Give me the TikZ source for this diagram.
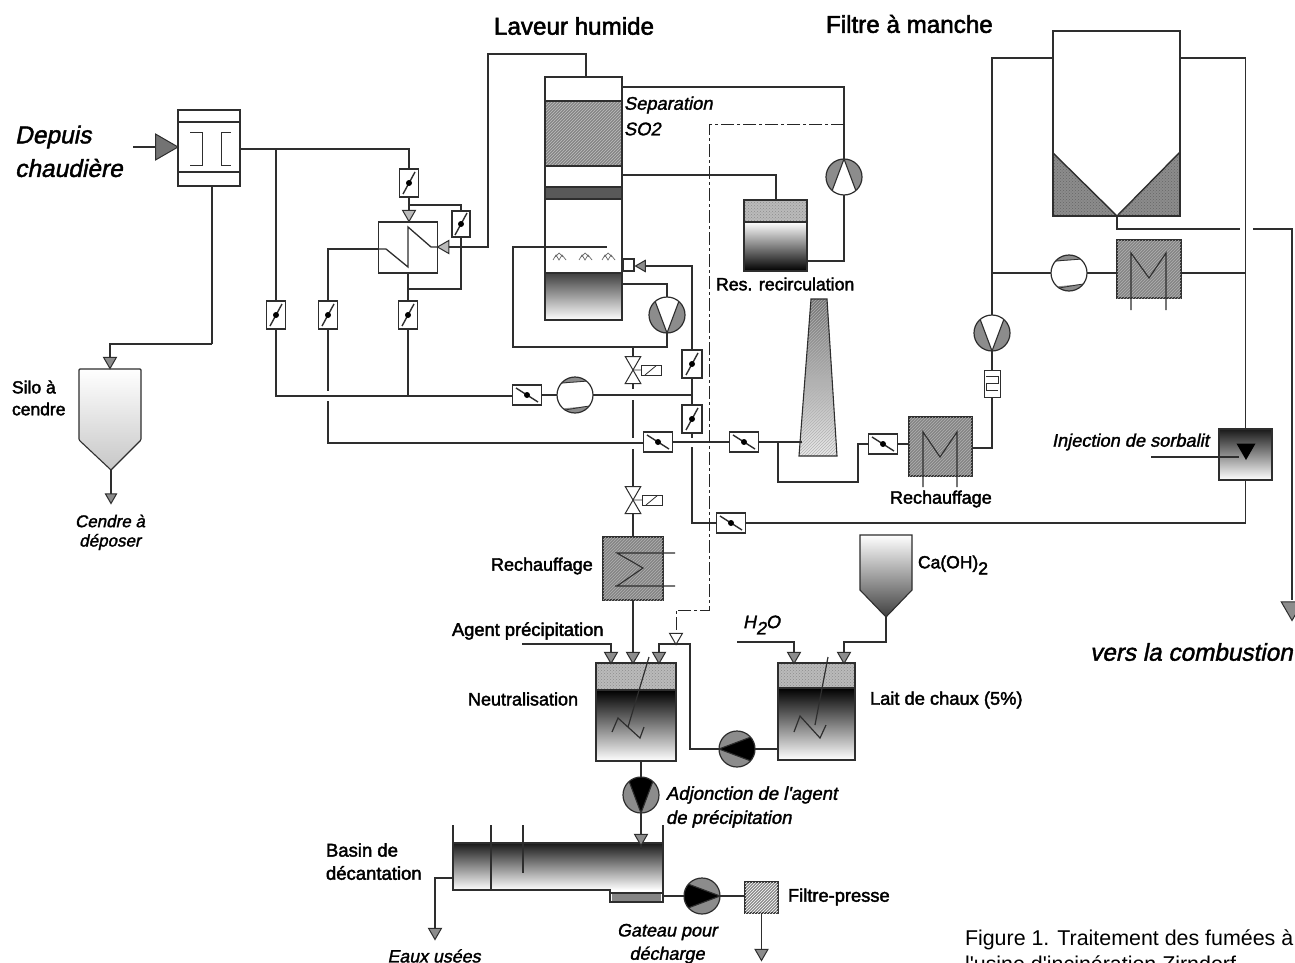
\documentclass[tikz,border=0pt]{standalone}
\usepackage{fontspec}
\setmainfont{Liberation Sans}
\newfontfamily\fb[FakeBold=2.2]{Liberation Sans}
\newfontfamily\fbi[FakeBold=1.6,FakeSlant=0.2]{Liberation Sans}
\newfontfamily\fr{Liberation Sans}
\newcommand{\fsz}[1]{\fontsize{#1}{#1}\selectfont}
\usetikzlibrary{shapes.geometric,patterns}
\colorlet{lc}{black!82}
\colorlet{hatchg}{black!48}
\colorlet{dotg}{black!45}
\tikzset{
  ln/.style={draw=lc,line width=1.1pt},
  thin ln/.style={draw=lc,line width=.7pt},
  dashln/.style={draw=black!85,line width=1pt,dash pattern=on 13pt off 3pt on 3pt off 3pt},
  box/.style={draw=lc,line width=1.2pt,rectangle,inner sep=0pt,outer sep=0pt},
  hatchbox/.style={box,fill=hatchg,postaction={pattern=north east lines,pattern color=white!70!black}},
  wbox/.style={box,fill=white},
  vdamp/.style={wbox,minimum width=19pt,minimum height=28pt,path picture={
     \begin{scope}[shift={(path picture bounding box.center)}]
     \draw[lc,line width=1.4pt] (-6,11)--(6,-11);
     \fill[black] (0,0) circle (3);\end{scope}}},
  hdamp/.style={wbox,minimum width=29pt,minimum height=20pt,path picture={
     \begin{scope}[shift={(path picture bounding box.center)}]
     \draw[lc,line width=1.4pt] (-11,-7)--(11,7);
     \fill[black] (0,0) circle (3);\end{scope}}},
  pumpbase/.style={draw=lc,line width=1.2pt,circle,inner sep=0pt,outer sep=0pt,minimum size=36pt,fill=dotg},
  pumpD/.style={pumpbase,path picture={
     \begin{scope}[shift={(path picture bounding box.center)}]
     \fill[#1] (0,18)--(-12,-14)--(-12,-30)--(12,-30)--(12,-14)--cycle;
     \draw[lc,line width=1.1pt] (-12,-14)--(0,18)--(12,-14);\end{scope}}},
  pumpU/.style={pumpbase,path picture={
     \begin{scope}[shift={(path picture bounding box.center)}]
     \fill[#1] (0,-18)--(-12,14)--(-12,30)--(12,30)--(12,14)--cycle;
     \draw[lc,line width=1.1pt] (-12,14)--(0,-18)--(12,14);\end{scope}}},
  pumpL/.style={pumpbase,path picture={
     \begin{scope}[shift={(path picture bounding box.center)}]
     \fill[#1] (-18,0)--(14,-12)--(30,-12)--(30,12)--(14,12)--cycle;
     \draw[lc,line width=1.1pt] (14,-12)--(-18,0)--(14,12);\end{scope}}},
  pumpR/.style={pumpbase,path picture={
     \begin{scope}[shift={(path picture bounding box.center)}]
     \fill[#1] (18,0)--(-14,-12)--(-30,-12)--(-30,12)--(-14,12)--cycle;
     \draw[lc,line width=1.1pt] (-14,-12)--(18,0)--(-14,12);\end{scope}}},
  fan/.style={draw=lc,line width=1.2pt,circle,inner sep=0pt,outer sep=0pt,minimum size=36pt,fill=white,path picture={
     \begin{scope}[shift={(path picture bounding box.center)}]
     \fill[dotg] (-18,-11)--(14,-14)--(14,-22)--(-18,-22)--cycle;
     \fill[dotg] (-18,14)--(14,11)--(14,22)--(-18,22)--cycle;
     \draw[lc,line width=.8pt] (-14,-12)--(14,-14) (-10,15)--(14,11);\end{scope}}},
  tri/.style={regular polygon,regular polygon sides=3,draw=lc,line width=1pt,inner sep=0pt,outer sep=0pt,minimum size=15pt,fill=dotg},
  tridown/.style={tri,shape border rotate=180},
  trileft/.style={tri,shape border rotate=90},
  valvebody/.style={regular polygon,regular polygon sides=3,draw=lc,line width=1pt,inner sep=0pt,outer sep=0pt,minimum size=18pt,fill=white},
  actu/.style={wbox,minimum width=20pt,minimum height=10pt,line width=.9pt,path picture={
     \begin{scope}[shift={(path picture bounding box.center)}]
     \draw[lc,line width=.8pt] (-6,5)--(6,-5);\end{scope}}},
  lbl/.style={inner sep=0pt,outer sep=0pt,anchor=west,align=left},
  lab/.style={lbl,font=\fb\fsz{#1}},
  labi/.style={lbl,font=\fbi\fsz{#1}},
}
\begin{document}
\begin{tikzpicture}[x=1pt,y=-1pt]
\useasboundingbox (0,0) rectangle (1295,963);
\fill[white] (0,0) rectangle (1295,963);

% ---------- titles and labels
\node[lab=24.2] (tLaveur) at (494,26) {Laveur humide};
\node[lab=24.2] (tFiltre) at (826,24) {Filtre à manche};
\node[labi=24.5] (tDep1) at (15,137) {Depuis};
\node[labi=24.5] (tDep2) at (15,168) {chaudière};
\node[lab=17.5] (tSilo1) at (12,387) {Silo à};
\node[lab=17.5] (tSilo2) at (12,409) {cendre};
\node[labi=17,anchor=center] (tCen1) at (110,521) {Cendre à};
\node[labi=17,anchor=center] (tCen2) at (110,542) {déposer};
\node[labi=18.3] (tSep) at (624,105) {Separation};
\node[labi=18.3] (tSO) at (624,129) {SO2};
\node[lab=17.7] (tRes) at (716,284) {Res. recirculation};
\node[labi=18.2] (tInj) at (1052,442) {Injection de sorbalit};
\node[lab=18] (tRe1) at (890,499) {Rechauffage};
\node[lab=18] (tRe2) at (491,566) {Rechauffage};
\node[lab=18.3] (tAg) at (452,631) {Agent précipitation};
\node[labi=18] (tH) at (743,625) {H\raisebox{-.35em}{2}O};
\node[lab=17.5] (tCa) at (918,565) {Ca(OH)\raisebox{-.35em}{2}};
\node[labi=24.3] (tVers) at (1090,652) {vers la combustion};
\node[lab=18] (tNeu) at (468,699) {Neutralisation};
\node[lab=18.3] (tLait) at (870,700) {Lait de chaux (5\%)};
\node[labi=18.5] (tAd1) at (666,795) {Adjonction de l'agent};
\node[labi=18.5] (tAd2) at (666,819) {de précipitation};
\node[lab=18.5] (tBa1) at (326,850) {Basin de};
\node[lab=18.5] (tBa2) at (326,873) {décantation};
\node[lab=18.3] (tPr) at (788,897) {Filtre-presse};
\node[labi=17.8,anchor=center] (tEa) at (434,956) {Eaux usées};
\node[labi=18,anchor=center] (tGa1) at (667,932) {Gateau pour};
\node[labi=18,anchor=center] (tGa2) at (667,955) {décharge};
\node[lbl,font=\fr\fsz{21.4}] (tFig1) at (965,940) {Figure 1. Traitement des fumées à};
\node[lbl,font=\fr\fsz{21.4}] (tFig2) at (965,964) {l'usine d'incinération Zirndorf};

% ---------- entry filter
\node[wbox,minimum width=62pt,minimum height=76pt] (entry) at (209,148) {};
\draw[box] (178,122)--(240,122) (178,172)--(240,172);
\draw[thin ln,line width=.9pt] (190,132)--(202,132)--(202,165)--(190,165) (231,132)--(221,132)--(221,165)--(231,165);
\node[tri,shape border rotate=-90,minimum size=30pt,fill=black!55] (intri) at (163,147) {};
\coordinate (instart) at (133,147);

% ---------- silo
\coordinate (silotop) at (110,369);
\coordinate (silotip) at (111,470);
\path[top color=white,bottom color=black!22] (79,369)--(141,369)--(141,440)--(111,470)--(79,440)--cycle;
\draw[ln,line width=1.1pt,rounded corners=1pt] (79,369)--(141,369)--(141,440)--(111,470)--(79,440)--cycle;
\node[tridown] (tsilo) at (110,361) {};
\node[tridown,minimum size=13pt] (tsiloout) at (111,497) {};
\coordinate (silobend) at (212,344);

% ---------- dampers
\node[vdamp] (d1) at (409,183) {};
\node[vdamp,minimum height=26pt,minimum width=18pt] (d2) at (461,224) {};
\node[vdamp] (d3) at (408,315) {};
\node[vdamp] (d4) at (276,315) {};
\node[vdamp] (d5) at (328,315) {};
\node[hdamp] (h1) at (527,395) {};
\node[hdamp] (h2) at (658,442) {};
\node[hdamp] (h3) at (744,442) {};
\node[hdamp] (h4) at (883,444) {};
\node[hdamp] (h5) at (731,523) {};
\node[vdamp,minimum width=20pt] (d6) at (692,364) {};
\node[vdamp,minimum width=20pt] (d7) at (692,419) {};

% ---------- gas heat exchanger
\node[wbox,minimum width=59pt,minimum height=51pt] (hx) at (408,247.5) {};
\draw[ln,line width=1.3pt] (379,249)--(386,249)--(408,267)--(408,227)--(431,247)--(438,247);
\node[tridown,fill=dotg!60] (thx1) at (409,214) {};
\node[trileft,fill=dotg!60] (thx2) at (445,247) {};

% ---------- scrubber column
\path[fill=white] (545,77) rectangle (622,320);
\path[fill=hatchg,postaction={pattern=north east lines,pattern color=black!25}] (545,101) rectangle (622,166);
\path[fill=black!65] (545,187) rectangle (622,199);
\path[top color=black!75,bottom color=white] (545,273) rectangle (622,320);
\node[box,minimum width=77pt,minimum height=243pt] (col) at (583.5,198.5) {};
\draw[ln] (545,101)--(622,101) (545,166)--(622,166) (545,187)--(622,187) (545,199)--(622,199) (545,273)--(622,273);
\foreach \dx in {560,586,609}{
  \draw[black!60,line width=.7pt] (\dx-7,260)--(\dx-4,255)--(\dx-1,260)--(\dx+2,255)--(\dx+6,260) (\dx-5,257)--(\dx-1,253)--(\dx+3,257);
}
\node[wbox,minimum width=11pt,minimum height=12pt] (noz) at (628.5,265) {};
\node[trileft,minimum size=13pt] (tnoz) at (642,266) {};
\node[pumpD=white] (p1) at (667,315) {};
\node[valvebody,shape border rotate=180] (v1a) at (633,361) {};
\node[valvebody] (v1b) at (633,379) {};
\node[actu] (a1) at (651,370) {};
\coordinate (col out1) at (622,87);
\coordinate (col out2) at (622,175);
\coordinate (col out3) at (622,284);
\coordinate (col in) at (586,77);
\coordinate (spray) at (607,247);

% ---------- reservoir
\path[fill=dotg!60,postaction={pattern=crosshatch dots,pattern color=black!45}] (744,200) rectangle (807,222);
\path[top color=white,bottom color=black] (744,222) rectangle (807,271);
\node[box,minimum width=63pt,minimum height=71pt] (res) at (775.5,235.5) {};
\draw[ln] (744,222)--(807,222);
\node[pumpU=white] (p2) at (844,177) {};

% ---------- fan and chimney
\node[fan] (f1) at (575,395) {};
\coordinate (chimtop) at (819,299);
\path[top color=black!55,bottom color=black!8,postaction={pattern=north east lines,pattern color=black!30}] (811,299)--(827,299)--(837,456)--(799,456)--cycle;
\draw[ln,line width=1.1pt] (811,299)--(827,299)--(837,456)--(799,456)--cycle;
\coordinate (chimin) at (802,442);

% ---------- reheater 1
\node[hatchbox,minimum width=63pt,minimum height=59pt] (hr1) at (940.5,446.5) {};
\draw[ln] (923,487)--(923,432)--(940,457)--(957,432)--(957,487);

% ---------- bag filter
\path[fill=white] (1053,31) rectangle (1180,216);
\path[fill=dotg,postaction={pattern=crosshatch dots,pattern color=black!60}] (1053,153)--(1117,216)--(1053,216)--cycle;
\path[fill=dotg,postaction={pattern=crosshatch dots,pattern color=black!60}] (1180,152)--(1117,216)--(1180,216)--cycle;
\node[box,minimum width=127pt,minimum height=185pt] (bag) at (1116.5,123.5) {};
\draw[ln,line width=1.4pt] (1053,153)--(1117,216)--(1180,152);
\coordinate (bagleft) at (1053,58);
\coordinate (bagright) at (1180,58);
\coordinate (bagout) at (1117,216);

% ---------- reheater 2, loop
\node[hatchbox,minimum width=64pt,minimum height=58pt] (hr2) at (1149,269) {};
\draw[ln] (1131,310)--(1131,253)--(1149,278)--(1166,253)--(1166,310);
\node[fan] (f2) at (1069,273) {};
\node[pumpD=white] (p3) at (992,333) {};
\node[wbox,minimum width=16pt,minimum height=27pt,line width=.9pt] (sil) at (992,383.5) {};
\draw[thin ln] (986,376)--(998,376)--(998,383)--(986,383)--(986,390)--(998,390);

% ---------- injection
\path[top color=black!90,bottom color=white] (1219,429) rectangle (1272,480);
\node[box,minimum width=53pt,minimum height=51pt] (inj) at (1245.5,454.5) {};
\node[regular polygon,regular polygon sides=3,shape border rotate=180,fill=black,inner sep=0pt,minimum size=22pt] (injt) at (1246,449) {};
\coordinate (injin) at (1151,457);

% ---------- liquid reheater
\node[hatchbox,minimum width=60pt,minimum height=63pt] (hr3) at (633,568.5) {};
\draw[ln] (675,553)--(617,553)--(643,568)--(617,586) (615,586)--(675,586);
\node[valvebody,shape border rotate=180] (v2a) at (633,491) {};
\node[valvebody] (v2b) at (633,509) {};
\node[actu] (a2) at (652,500) {};

% ---------- neutralisation tank
\path[fill=dotg!60,postaction={pattern=crosshatch dots,pattern color=black!45}] (596,663) rectangle (676,690);
\path[top color=black,bottom color=white] (596,690) rectangle (676,761);
\node[box,minimum width=80pt,minimum height=98pt] (neu) at (636,712) {};
\draw[ln] (596,690)--(676,690);
\draw[ln,line width=1.2pt] (649,657)--(628,727) (612,732)--(618,718)--(640,738)--(644,727);
\node[tridown] (tn1) at (611,656) {};
\node[tridown] (tn2) at (633,656) {};
\node[tridown] (tn3) at (659,656) {};
\node[tridown,fill=white] (tn4) at (676,637) {};
\coordinate (agstart) at (522,644);
\coordinate (nbranch) at (659,644);
\coordinate (nbend) at (690,644);

% ---------- lime tank and hopper
\path[fill=dotg!60,postaction={pattern=crosshatch dots,pattern color=black!45}] (778,663) rectangle (855,688);
\path[top color=black,bottom color=white] (778,688) rectangle (855,760);
\node[box,minimum width=77pt,minimum height=97pt] (lait) at (816.5,711.5) {};
\draw[ln] (778,688)--(855,688);
\draw[ln,line width=1.2pt] (828,657)--(815,725) (794,732)--(800,716)--(820,738)--(826,725);
\node[tridown] (tl1) at (794,656) {};
\node[tridown] (tl2) at (844,656) {};
\coordinate (h2ostart) at (737,642);
\coordinate (ltop) at (844,642);
\path[top color=white,bottom color=black!75] (860,535)--(912,535)--(912,590)--(886,617)--(860,590)--cycle;
\draw[ln,line width=1.1pt] (860,535)--(912,535)--(912,590)--(886,617)--(860,590)--cycle;
\coordinate (hoptip) at (886,617);
\node[pumpL=black] (p4) at (737,749) {};

% ---------- settling basin
\path[top color=black!90,bottom color=white] (453,843) rectangle (663,890);
\path[fill=white] (610,890) rectangle (663,902);
\path[fill=hatchg] (612,893) rectangle (661,901);
\draw[ln] (453,825)--(453,890)--(610,890)--(610,902)--(663,902)--(663,825);
\draw[ln] (610,893)--(663,893);
\draw[ln,line width=1.2pt] (453,843)--(663,843);
\draw[ln] (491,825)--(491,890) (523,825)--(523,873);
\coordinate (basinleft) at (453,878);
\coordinate (basinright) at (663,896);
\node[pumpD=black] (p5) at (641,795) {};
\node[tridown] (tb) at (641,838) {};
\node[pumpR=black] (p6) at (702,896) {};
\node[box,fill=dotg,minimum width=33pt,minimum height=31pt,postaction={pattern=north east lines,pattern color=white}] (fp) at (761.5,897.5) {};
\node[tridown] (tea) at (435,932) {};
\node[tridown] (tfp) at (761.5,953) {};

% ---------- connectors
\draw[ln] (instart)--(intri);
\draw[ln] (entry.east|-0,149)-|(d1.north);
\draw[ln] (d1.south)--(thx1.north);
\coordinate (d2tee) at (409,205);
\draw[ln] (d2tee)-|(d2.north);
\coordinate (d2low) at (408,289);
\draw[ln] (d2.south)|-(d2low);
\draw[ln] (hx.south)--(d3.north);
\coordinate (rtop) at (488,247);
\coordinate (ctop) at (488,54);
\draw[ln] (thx2.east)--(rtop)--(ctop)-|(col in);
\coordinate (e1) at (276,149);
\draw[ln] (e1)--(d4.north);
\coordinate (hx in) at (379,249);
\draw[ln] (hx in)-|(d5.north);
\coordinate (line1) at (276,396);
\draw[ln] (d4.south)--(line1)--(h1.west|-line1);
\coordinate (j3) at (408,396);
\draw[ln] (d3.south)--(j3);
\draw[ln] (h1.east)--(f1.west);
\coordinate (j692) at (692,395);
\draw[ln] (f1.east)--(j692);
\coordinate (g1) at (328,391);
\coordinate (g2) at (328,401);
\coordinate (line2) at (328,443);
\draw[ln] (d5.south)--(g1);
\draw[ln] (g2)--(line2)--(h2.west|-line2);
\draw[ln] (h2.east)--(h3.west);
\draw[ln] (h3.east)--(chimin);
\coordinate (j777) at (778,442);
\coordinate (j777b) at (778,482);
\coordinate (h4b) at (858,482);
\coordinate (h4a) at (858,444);
\draw[ln] (j777)--(j777b)--(h4b)--(h4a)--(h4.west);
\draw[ln] (h4.east)--(hr1.west|-h4);
\coordinate (hr1o) at (972,448);
\coordinate (hr1u) at (992,448);
\draw[ln] (hr1o)--(hr1u)--(sil.south);
\draw[ln] (sil.north)--(p3.south);
\coordinate (loop) at (992,58);
\draw[ln] (p3.north)--(loop)--(bagleft);
\coordinate (loopm) at (992,273);
\draw[ln] (loopm)--(f2.west);
\draw[ln] (f2.east)--(hr2.west|-f2);
\coordinate (rr) at (1245.5,58);
\coordinate (rm) at (1245.5,273);
\draw[ln] (bagright)--(rr)--(inj.north);
\draw[ln] (hr2.east|-rm)--(rm);
\coordinate (bo) at (1117,229);
\coordinate (bg1) at (1240,229);
\coordinate (bg2) at (1253,229);
\coordinate (bo2) at (1292,229);
\coordinate (bo3) at (1292,600);
\draw[ln] (bagout)--(bo)--(bg1);
\draw[ln] (bg2)--(bo2)--(bo3);
\node[tridown,minimum size=25pt] (tvers) at (1292,608) {};
\draw[ln] (injin)--(injt.west|-injin);
\coordinate (injd) at (1245.5,523);
\draw[ln] (inj.south)--(injd)--(h5.east);
\coordinate (h5l) at (692,523);
\coordinate (g7) at (692,438);
\coordinate (g8) at (692,447);
\draw[ln] (h5.west)--(h5l)--(g8);
\draw[ln] (d7.south)--(g7);
\draw[ln] (d6.south)--(d7.north);
\coordinate (nozr) at (692,266);
\draw[ln] (tnoz.east)--(nozr)--(d6.north);
\draw[ln] (col out1)-|(p2.north);
\draw[ln] (p2.south)|-(res.east|-0,261);
\draw[ln] (col out2)-|(res.north-|776,0);
\coordinate (p1t) at (667,284);
\draw[ln] (col out3)--(p1t)--(p1.north);
\coordinate (p1b) at (667,347);
\coordinate (lb) at (513,347);
\coordinate (lt) at (513,247);
\draw[ln] (p1.south)--(p1b)--(lb)--(lt)--(spray);
\coordinate (vt) at (633,347);
\draw[ln] (vt)--(v1a.north);
\draw[thin ln] (a1.west)--(v1a.south);
\coordinate (g3) at (633,389);
\coordinate (g4) at (633,400);
\coordinate (g5) at (633,438);
\coordinate (g6) at (633,449);
\draw[ln] (v1b.south)--(g3) (g4)--(g5) (g6)--(v2a.north);
\draw[thin ln] (a2.west)--(v2a.south);
\draw[ln] (v2b.south)--(hr3.north);
\draw[ln] (hr3.south)--(tn2.north);
\draw[ln] (agstart)-|(tn1.north);
\coordinate (pl) at (690,749);
\draw[ln] (tn3.north)--(nbranch)--(nbend)--(pl)--(p4.west);
\draw[ln] (p4.east)--(lait.west|-p4);
\draw[ln] (neu.south-|p5)--(p5.north);
\draw[ln] (p5.south)--(tb.north);
\coordinate (tbin) at (641,849);
\draw[ln] (tb.south)--(tbin);
\draw[ln] (h2ostart)-|(tl1.north);
\draw[ln] (hoptip)|-(ltop)--(tl2.north);
\coordinate (bl) at (435,878);
\draw[ln] (basinleft)--(bl)--(tea.north);
\draw[ln] (basinright)--(p6.west);
\draw[ln] (p6.east)--(fp.west|-p6);
\draw[ln] (fp.south)--(tfp.north);
\draw[ln] (entry.south-|212,0)--(silobend);
\coordinate (sb2) at (110,344);
\draw[ln] (silobend)--(sb2)--(tsilo.north);
\draw[ln] (silotip)--(tsiloout.north);
% recirculation dash line
\coordinate (da) at (844,125);
\coordinate (db) at (709,125);
\coordinate (dc) at (709,610);
\coordinate (dd) at (676,610);
\draw[dashln] (da)--(db)--(dc)--(dd)--(tn4.north);
\end{tikzpicture}
\end{document}
